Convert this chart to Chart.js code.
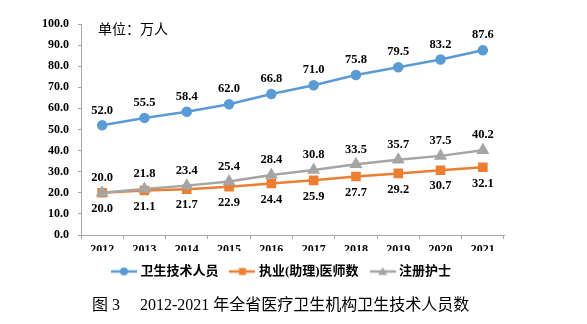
<!DOCTYPE html>
<html>
<head>
<meta charset="utf-8">
<title>卫生技术人员数</title>
<script src="https://cdn.jsdelivr.net/npm/chart.js@4.4.1/dist/chart.umd.min.js"></script>
<style>
    body { margin: 0; background: #fff; }
    #wrap { position: relative; width: 587px; height: 324px; }
    #unit {
        position: absolute; left: 98px; top: 20px;
        font: 14px/16px "Noto Sans CJK SC", sans-serif; color: #000;
    }
    #caption {
        position: absolute; left: 92px; top: 296px; white-space: pre;
        font: 16px/18px "Liberation Serif", "Noto Sans CJK SC", serif; color: #000;
    }
</style>
</head>
<body>
<div id="wrap">
    <canvas id="myChart" width="587" height="324"></canvas>
    <div id="unit">单位：万人</div>
    <div id="caption">图 3<span style="margin-left:20px">2012-2021 年全省医疗卫生机构卫生技术人员数</span></div>
</div>

<script>
// data (万人)
var years = ['2012', '2013', '2014', '2015', '2016', '2017', '2018', '2019', '2020', '2021'];
var techStaff = [52.0, 55.5, 58.4, 62.0, 66.8, 71.0, 75.8, 79.5, 83.2, 87.6];
var doctors = [20.0, 21.1, 21.7, 22.9, 24.4, 25.9, 27.7, 29.2, 30.7, 32.1];
var nurses = [20.0, 21.8, 23.4, 25.4, 28.4, 30.8, 33.5, 35.7, 37.5, 40.2];
var seriesNames = ['卫生技术人员', '执业(助理)医师数', '注册护士'];

var tickFont = { family: '"Liberation Serif", serif', size: 12, weight: 'bold' };
var axisColor = '#a6a6a6';

// little line+marker picture used for the legend entries
function legendIcon(color, style) {
    var c = document.createElement('canvas');
    c.width = 26;
    c.height = 12;
    var g = c.getContext('2d');
    g.strokeStyle = color;
    g.fillStyle = color;
    g.lineWidth = 2.5;
    g.beginPath();
    g.moveTo(0, 6);
    g.lineTo(26, 6);
    g.stroke();
    g.beginPath();
    if (style === 'circle') {
        g.arc(13, 6, 4, 0, Math.PI * 2);
    } else if (style === 'rect') {
        g.rect(9.5, 2.5, 7, 7);
    } else {
        g.moveTo(13, 1.5);
        g.lineTo(17.5, 9.5);
        g.lineTo(8.5, 9.5);
        g.closePath();
    }
    g.fill();
    return c;
}

// value labels above / below each point
var valueLabels = {
    id: 'valueLabels',
    afterDatasetsDraw: function(chart) {
        var ctx = chart.ctx;
        ctx.save();
        ctx.font = 'bold 12.5px "Liberation Serif", serif';
        ctx.fillStyle = '#000';
        ctx.textAlign = 'center';
        ctx.textBaseline = 'middle';
        chart.data.datasets.forEach(function(ds, i) {
            chart.getDatasetMeta(i).data.forEach(function(pt, j) {
                ctx.fillText(ds.data[j].toFixed(1), pt.x, pt.y + ds.labelOffset);
            });
        });
        ctx.restore();
    }
};

var ctx = document.getElementById('myChart').getContext('2d');
var chart = new Chart(ctx, {
    type: 'line',
    data: {
        labels: years,
        datasets: [{
            label: seriesNames[0],
            data: techStaff,
            borderColor: '#5B9BD5',
            backgroundColor: '#5B9BD5',
            borderWidth: 2.5,
            pointStyle: 'circle',
            pointRadius: 4,
            labelOffset: -15,
            icon: legendIcon('#5B9BD5', 'circle'),
            order: 3
        }, {
            label: seriesNames[1],
            data: doctors,
            borderColor: '#ED7D31',
            backgroundColor: '#ED7D31',
            borderWidth: 2.5,
            pointStyle: 'rect',
            pointRadius: 5,
            labelOffset: 16,
            icon: legendIcon('#ED7D31', 'rect'),
            order: 2
        }, {
            label: seriesNames[2],
            data: nurses,
            borderColor: '#A5A5A5',
            backgroundColor: '#A5A5A5',
            borderWidth: 2.5,
            pointStyle: 'triangle',
            pointRadius: 5,
            labelOffset: -15,
            icon: legendIcon('#A5A5A5', 'triangle'),
            order: 1
        }]
    },
    options: {
        responsive: false,
        animation: false,
        devicePixelRatio: 1,
        layout: { padding: { top: 24, right: 22, bottom: 36, left: 0 } },
        elements: { line: { tension: 0 }, point: { borderWidth: 1 } },
        scales: {
            x: {
                offset: true,
                grid: { drawOnChartArea: false, offset: true, tickLength: 4, color: axisColor },
                border: { color: axisColor },
                ticks: { font: tickFont, color: '#000', padding: 4, maxRotation: 0 },
                afterFit: function(s) { s.height = 16; }
            },
            y: {
                min: 0,
                max: 100,
                grid: { drawOnChartArea: false, tickLength: 3, color: axisColor },
                border: { color: axisColor },
                ticks: {
                    stepSize: 10,
                    font: tickFont,
                    color: '#000',
                    padding: 9,
                    callback: function(v) { return v.toFixed(1); }
                },
                afterFit: function(s) { s.width = 81; }
            },
            // empty axis to keep the right margin of the plot
            yRight: {
                position: 'right',
                grid: { display: false },
                border: { display: false },
                ticks: { display: false },
                afterFit: function(s) { s.width = 61; }
            }
        },
        plugins: {
            tooltip: { enabled: false },
            legend: {
                position: 'bottom',
                labels: {
                    usePointStyle: true,
                    pointStyleWidth: 20,
                    padding: 14,
                    color: '#000',
                    font: { family: '"Liberation Serif", "Noto Sans CJK SC", serif', size: 13, weight: 'bold' },
                    generateLabels: function(chart) {
                        return chart.data.datasets.map(function(ds, i) {
                            return {
                                text: ds.label,
                                pointStyle: ds.icon,
                                fillStyle: 'transparent',
                                strokeStyle: 'transparent',
                                lineWidth: 0,
                                hidden: false,
                                datasetIndex: i
                            };
                        });
                    }
                }
            }
        }
    },
    plugins: [valueLabels]
});
</script>
</body>
</html>
